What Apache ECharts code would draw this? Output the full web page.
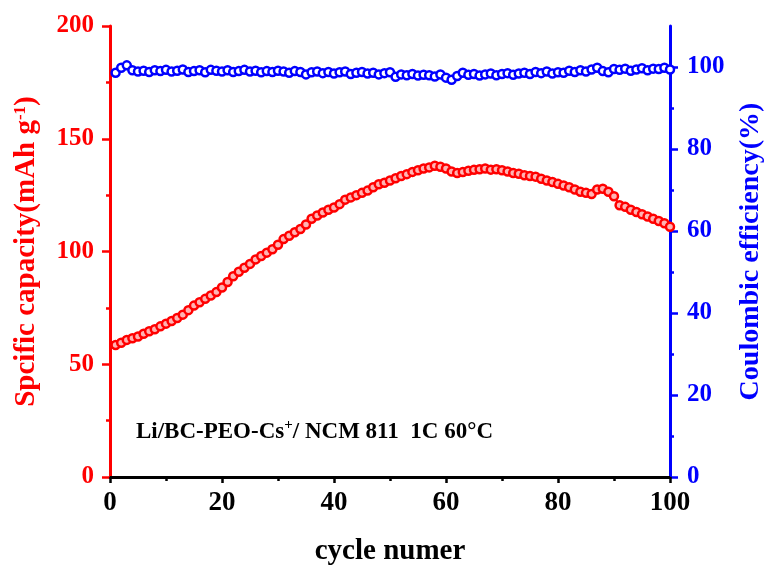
<!DOCTYPE html>
<html>
<head>
<meta charset="utf-8">
<script src="https://cdn.jsdelivr.net/npm/echarts@6/dist/echarts.min.js"></script>
<style>
  html, body { margin: 0; padding: 0; background: #fff; }
  #main { width: 764px; height: 567px; }
</style>
</head>
<body>
<div id="main"></div>
<script>
// cycle number 1..100
var cycles = [];
for (var i = 1; i <= 100; i++) cycles.push(i);

// specific capacity (mAh g-1)
var capacity = [
  58.5, 59.5, 60.8, 61.5, 62.3, 63.5, 64.6, 65.5, 66.8, 68.0,
  69.2, 70.5, 72.0, 74.0, 76.0, 77.5, 79.0, 80.5, 82.0, 84.0,
  86.5, 89.0, 91.0, 92.8, 94.5, 96.5, 98.0, 99.5, 101.0, 103.0,
  105.5, 107.0, 108.5, 110.0, 112.0, 114.5, 116.0, 117.3, 118.5, 119.5,
  121.0, 123.0, 124.0, 125.0, 126.0, 127.0, 128.5, 129.8, 130.5, 131.5,
  132.5, 133.5, 134.3, 135.3, 136.0, 136.8, 137.3, 138.0, 137.6, 136.8,
  135.5, 134.8, 135.2, 135.8, 136.2, 136.5, 136.8, 136.3, 136.5, 136.0,
  135.5, 134.8, 134.5, 133.8, 133.5, 133.2, 132.3, 131.5, 130.8, 130.0,
  129.3, 128.5, 127.5, 126.5, 126.0, 125.5, 127.5, 127.8, 126.5, 124.5,
  120.5, 119.8, 118.5, 117.5, 116.5, 115.5, 114.5, 113.5, 112.5, 111.0
];

// coulombic efficiency (%)
var efficiency = [
  98.6, 99.8, 100.4, 99.2, 98.9, 99.1, 98.8, 99.2, 99.0, 99.3,
  98.9, 99.1, 99.4, 98.8, 99.0, 99.2, 98.7, 99.3, 99.1, 98.9,
  99.2, 98.8, 99.0, 99.3, 98.9, 99.1, 98.7, 99.0, 98.8, 99.1,
  98.9, 98.6, 99.0, 98.8, 98.2, 98.7, 98.9, 98.5, 98.8, 98.4,
  98.7, 98.9, 98.3, 98.6, 98.8, 98.4, 98.6, 98.2, 98.5, 98.7,
  97.6, 98.2, 98.0, 98.3, 97.9, 98.1, 98.0, 97.7, 98.2, 97.4,
  96.9, 97.8, 98.6, 98.1, 98.3, 97.9, 98.2, 98.4, 98.0, 98.3,
  98.5, 98.1, 98.4, 98.6, 98.3, 98.8, 98.5, 98.9, 98.4, 98.7,
  98.6, 99.1, 98.8, 99.2, 98.9, 99.4, 99.8, 99.0, 98.7, 99.5,
  99.3, 99.6, 99.1, 99.4, 99.7, 99.2, 99.6, 99.5, 99.8, 99.4
];

// right axis ticks (axis runs to 110 but is labelled only to 100)
var ceTicks = [0, 20, 40, 60, 80, 100];
var ceMinorTicks = [10, 30, 50, 70, 90];

var capData = cycles.map(function (c, i) { return [c, capacity[i]]; });
var ceData = cycles.map(function (c, i) { return [c, efficiency[i]]; });

var serif = "'Liberation Serif', 'Times New Roman', serif";

var chart = echarts.init(document.getElementById('main'));
var option = {
  backgroundColor: '#fff',
  animation: false,
  textStyle: { fontFamily: serif },
  grid: { left: 110, right: 94, top: 26, bottom: 90, containLabel: false, outerBoundsMode: 'none' },
  xAxis: {
    type: 'value',
    min: 0, max: 100, interval: 20,
    name: 'cycle numer',
    nameLocation: 'middle',
    nameGap: 60,
    nameTextStyle: { fontFamily: serif, fontWeight: 'bold', fontSize: 29, color: '#000' },
    axisLine: { onZero: false, lineStyle: { color: '#000', width: 3 } },
    axisTick: { inside: false, length: 6, lineStyle: { width: 2.5, color: '#000' } },
    minorTick: { show: true, splitNumber: 2, length: 4, lineStyle: { width: 2.5, color: '#000' } },
    axisLabel: { fontFamily: serif, fontWeight: 'bold', fontSize: 27, color: '#000', margin: 13 },
    splitLine: { show: false }
  },
  yAxis: [
    {
      type: 'value',
      position: 'left',
      min: 0, max: 200, interval: 50,
      name: '{a|Spcific capacity(mAh g}{s|-1}{a|)}',
      nameLocation: 'middle',
      nameRotate: 90,
      nameGap: 68,
      nameTextStyle: {
        rich: {
          a: { fontFamily: serif, fontWeight: 'bold', fontSize: 29, color: '#ff0000', lineHeight: 30 },
          s: { fontFamily: serif, fontWeight: 'bold', fontSize: 17, color: '#ff0000', lineHeight: 16, verticalAlign: 'top' }
        }
      },
      axisLine: { show: true, lineStyle: { color: '#ff0000', width: 3 } },
      axisTick: { inside: false, length: 8, lineStyle: { width: 2.5, color: '#ff0000' } },
      minorTick: { show: true, splitNumber: 2, length: 4, lineStyle: { width: 2.5, color: '#ff0000' } },
      axisLabel: { fontFamily: serif, fontWeight: 'bold', fontSize: 25, color: '#ff0000', margin: 16 },
      splitLine: { show: false }
    },
    {
      type: 'value',
      position: 'right',
      min: 0, max: 110, interval: 10,
      name: 'Coulombic efficiency(%)',
      nameLocation: 'middle',
      nameRotate: 90,
      nameGap: 64,
      nameTextStyle: { fontFamily: serif, fontWeight: 'bold', fontSize: 28, color: '#0000ff', lineHeight: 30 },
      axisLine: { show: true, lineStyle: { color: '#0000ff', width: 3 } },
      axisTick: { inside: false, length: 8, customValues: ceTicks, lineStyle: { width: 2.5, color: '#0000ff' } },
      axisLabel: { fontFamily: serif, fontWeight: 'bold', fontSize: 25, color: '#0000ff', margin: 17, customValues: ceTicks },
      splitLine: { show: false }
    },
    {
      // minor ticks of the right axis
      type: 'value',
      position: 'right',
      min: 0, max: 110,
      axisLine: { show: false },
      axisTick: { show: true, inside: false, length: 4, customValues: ceMinorTicks, lineStyle: { width: 2.5, color: '#0000ff' } },
      axisLabel: { show: false },
      splitLine: { show: false }
    }
  ],
  series: [
    {
      name: 'capacity',
      type: 'line',
      yAxisIndex: 0,
      data: capData,
      symbol: 'circle',
      symbolSize: 8,
      lineStyle: { color: '#ff0000', width: 2 },
      itemStyle: { color: '#ffb3b3', borderColor: '#ff0000', borderWidth: 2.5 }
    },
    {
      name: 'efficiency',
      type: 'line',
      yAxisIndex: 1,
      data: ceData,
      symbol: 'circle',
      symbolSize: 8,
      lineStyle: { color: '#0000ff', width: 2 },
      itemStyle: { color: '#ffffff', borderColor: '#0000ff', borderWidth: 2.5 }
    }
  ],
  graphic: [
    {
      type: 'text',
      left: 136,
      top: 418,
      style: {
        text: '{a|Li/BC-PEO-Cs}{s|+}{a|/ NCM 811  1C 60°C}',
        rich: {
          a: { fontFamily: serif, fontWeight: 'bold', fontSize: 23, fill: '#000', lineHeight: 28 },
          s: { fontFamily: serif, fontWeight: 'bold', fontSize: 15, fill: '#000', lineHeight: 15, verticalAlign: 'top' }
        }
      }
    }
  ]
};
chart.setOption(option);
window.addEventListener('resize', function () {
  chart.resize();
});
</script>
</body>
</html>
